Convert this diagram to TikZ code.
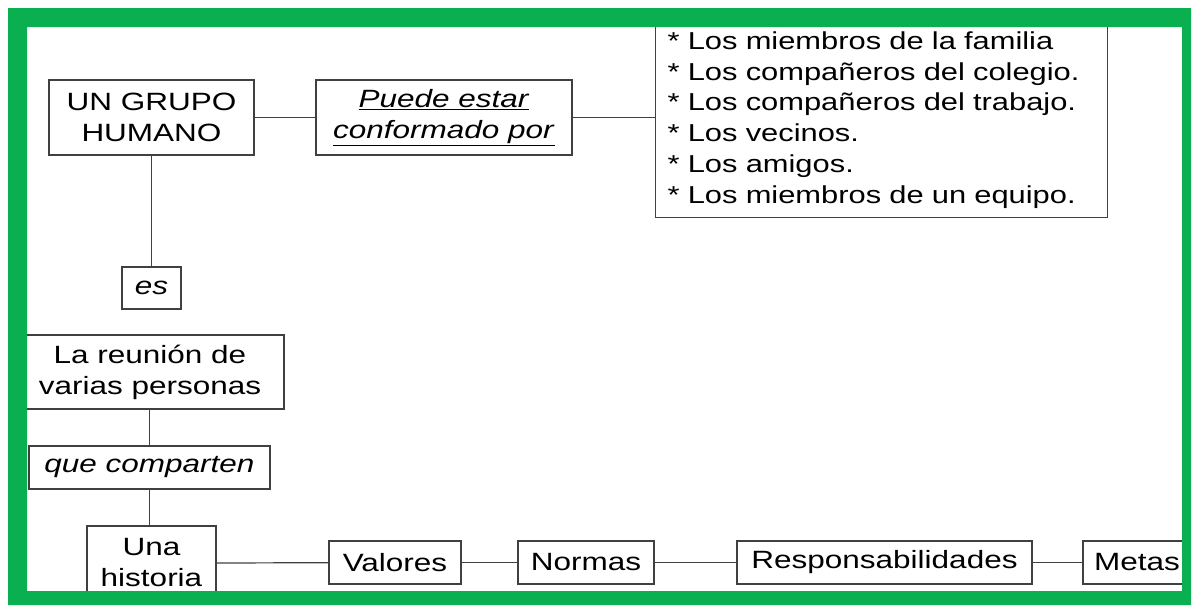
\documentclass[tikz,border=0pt]{standalone}
\usepackage{fontspec}
\setmainfont[FakeStretch=1.26]{Liberation Sans}
\definecolor{marco}{HTML}{0AB04F}
\definecolor{linea}{HTML}{404040}

\begin{document}
\begin{tikzpicture}[x=1pt,y=-1pt,
    caja/.style={draw=linea,line width=1.3pt,fill=white,inner sep=0pt,
      align=center,font=\fontsize{25}{31}\selectfont},
    enlace/.style={draw=linea,line width=1.2pt}]
  \useasboundingbox (0,0) rectangle (1193,608);

  \begin{scope}
    % everything is cut by the inner edge of the frame
    \clip (27,27) rectangle (1182,591);

    % Top row
    \node[caja,minimum width=205,minimum height=75] (grupo) at (151.5,117.5) {UN GRUPO\\HUMANO};
    \node[caja,minimum width=256,minimum height=75] (puede) at (444,117.5)
      {\underline{\textit{Puede estar}}\\\underline{\textit{conformado por}}};
    \node[caja,anchor=south west,text width=428,align=left,inner xsep=12pt,inner ysep=9pt,
      font=\fontsize{24.5}{30.8}\selectfont] (lista) at (655,218)
      {{*} Los miembros de la familia\\
       {*} Los compañeros del colegio.\\
       {*} Los compañeros del trabajo.\\
       {*} Los vecinos.\\
       {*} Los amigos.\\
       {*} Los miembros de un equipo.};

    % Left column
    \node[caja,minimum width=59,minimum height=42] (es) at (151.5,288) {\textit{es}};
    \node[caja,minimum width=268,minimum height=74] (reunion) at (150,372) {La reunión de\\varias personas};
    \node[caja,minimum width=241,minimum height=43] (comparten) at (149.5,467.5) {\textit{que comparten}};

    % Bottom row
    \node[caja,minimum width=129,minimum height=74] (historia) at (151.5,563) {Una\\historia};
    \node[caja,minimum width=132,minimum height=43] (valores) at (395,562.5) {Valores};
    \node[caja,minimum width=136,minimum height=43] (normas) at (586,562.5) {Normas};
    \node[caja,minimum width=295,minimum height=43] (resp) at (884.5,562.5) {Responsabilidades};
    \node[caja,minimum width=108,minimum height=43] (metas) at (1137,562.5) {Metas};

    % Connectors
    \draw[enlace] (grupo) -- (puede);
    \draw[enlace] (puede.east) -- (puede.east -| lista.west);
    \draw[enlace] (grupo) -- (es);
    \draw[enlace] (reunion.south -| comparten.north) -- (comparten);
    \draw[enlace] (comparten) -- (historia.north -| comparten.south);
    \draw[enlace] (historia.east) -- (valores);
    \draw[enlace] (valores) -- (normas);
    \draw[enlace] (normas) -- (resp);
    \draw[enlace] (resp) -- (metas);
  \end{scope}

  % Green frame
  \fill[marco,even odd rule] (8,8) rectangle (1191,605) (27,27) rectangle (1182,591);
\end{tikzpicture}
\end{document}
